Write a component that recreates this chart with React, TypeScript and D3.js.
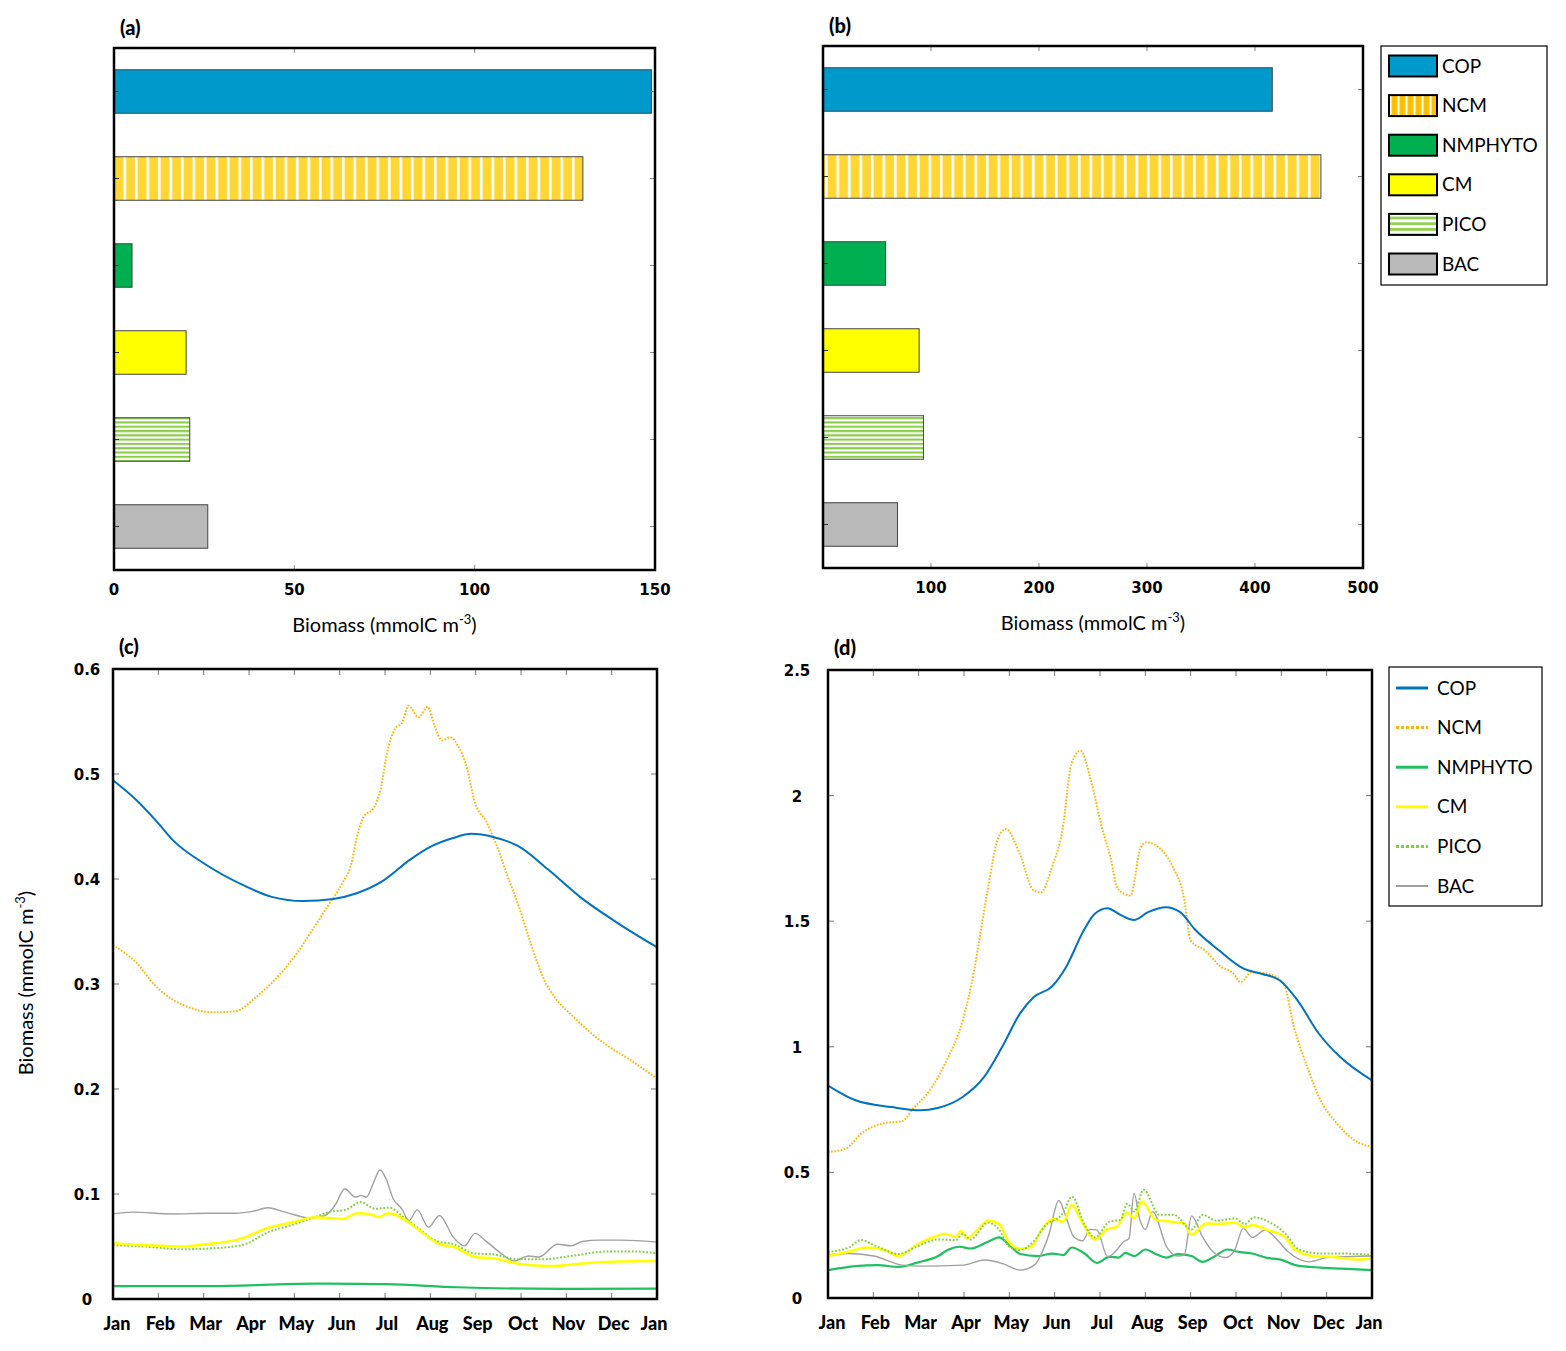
import React from "react";
import * as d3 from "d3";

// bar charts (a) and (b)
const groups = ["COP", "NCM", "NMPHYTO", "CM", "PICO", "BAC"];
const biomassA = [149, 130, 5, 20, 21, 26];
const biomassB = [416, 461, 58, 89, 93, 69];
const ticksA = [0, 50, 100, 150];
const ticksB = [100, 200, 300, 400, 500];

// time series (c) and (d): [month, biomass]
const monthLabels = ["Jan", "Feb", "Mar", "Apr", "May", "Jun", "Jul", "Aug", "Sep", "Oct", "Nov", "Dec", "Jan"];
const ticksC = [0, 0.1, 0.2, 0.3, 0.4, 0.5, 0.6];
const ticksD = [0, 0.5, 1, 1.5, 2, 2.5];

const copC = [[0, 0.494], [0.52, 0.475], [1.0, 0.453], [1.32, 0.437], [2.0, 0.415], [2.93, 0.393], [3.5, 0.383], [4.2, 0.379], [4.86, 0.381], [5.34, 0.386], [5.98, 0.399], [6.54, 0.418], [7.02, 0.431], [7.5, 0.439], [7.9, 0.443], [8.39, 0.44], [8.95, 0.431], [9.6, 0.409], [10.3, 0.383], [11.1, 0.359], [12, 0.335]];
const ncmC = [[0, 0.337], [0.52, 0.32], [0.92, 0.299], [1.32, 0.285], [1.73, 0.277], [2.2, 0.273], [2.69, 0.274], [3.17, 0.288], [3.57, 0.304], [4.05, 0.329], [4.45, 0.355], [4.78, 0.377], [5.06, 0.396], [5.26, 0.415], [5.38, 0.44], [5.54, 0.46], [5.74, 0.467], [5.9, 0.485], [6.06, 0.523], [6.22, 0.543], [6.38, 0.549], [6.52, 0.565], [6.74, 0.554], [6.94, 0.564], [7.1, 0.545], [7.26, 0.532], [7.44, 0.535], [7.62, 0.526], [7.78, 0.51], [7.99, 0.472], [8.23, 0.455], [8.47, 0.431], [8.71, 0.402], [8.95, 0.374], [9.19, 0.342], [9.51, 0.304], [9.75, 0.287], [10.15, 0.269], [10.55, 0.253], [10.95, 0.24], [11.36, 0.229], [12, 0.21]];
const nmphytoC = [[0, 0.0122], [2.1, 0.0122], [4.45, 0.0147], [6.02, 0.0141], [7.6, 0.0112], [9.95, 0.0096], [12, 0.0099]];
const cmC = [[0, 0.0532], [0.67, 0.0513], [1.46, 0.05], [2.08, 0.0522], [2.79, 0.057], [3.42, 0.0676], [3.97, 0.0731], [4.45, 0.0779], [5.07, 0.0763], [5.39, 0.0817], [5.7, 0.0804], [5.86, 0.0779], [6.06, 0.0817], [6.26, 0.0795], [6.57, 0.0715], [6.81, 0.0635], [7.2, 0.0522], [7.51, 0.0497], [7.99, 0.04], [8.38, 0.0388], [9.01, 0.033], [9.64, 0.0314], [10.35, 0.0337], [11.13, 0.0356], [12, 0.0362]];
const picoC = [[0, 0.0513], [0.67, 0.05], [1.53, 0.0474], [2.24, 0.0484], [2.87, 0.0516], [3.42, 0.0635], [3.97, 0.0708], [4.45, 0.0779], [4.76, 0.0827], [5.15, 0.0853], [5.47, 0.0923], [5.78, 0.0859], [6.1, 0.0869], [6.41, 0.0779], [6.73, 0.0676], [7.12, 0.0554], [7.51, 0.0522], [7.99, 0.0433], [8.38, 0.0426], [8.93, 0.0378], [9.48, 0.0378], [10.11, 0.041], [10.9, 0.0452], [11.53, 0.0452], [12, 0.0433]];
const bacC = [[0, 0.0811], [0.43, 0.0827], [1.3, 0.081], [2.08, 0.0817], [2.71, 0.0817], [3.1, 0.0837], [3.42, 0.0869], [3.8, 0.0827], [4.37, 0.077], [4.68, 0.0795], [4.92, 0.0907], [5.11, 0.105], [5.35, 0.097], [5.47, 0.0987], [5.59, 0.097], [5.74, 0.11], [5.89, 0.1228], [6.02, 0.1147], [6.18, 0.0955], [6.37, 0.0859], [6.53, 0.0747], [6.71, 0.0849], [6.96, 0.0683], [7.2, 0.0795], [7.51, 0.0587], [7.75, 0.0506], [7.99, 0.0625], [8.22, 0.0554], [8.54, 0.0442], [8.85, 0.0362], [9.17, 0.041], [9.4, 0.04], [9.8, 0.0522], [10.11, 0.0506], [10.35, 0.0548], [10.74, 0.0561], [11.21, 0.0561], [12, 0.0542]];

const copD = [[0, 0.846], [0.61, 0.787], [1.4, 0.76], [2.03, 0.747], [2.42, 0.756], [2.97, 0.8], [3.44, 0.879], [3.84, 0.999], [4.23, 1.131], [4.54, 1.198], [4.94, 1.24], [5.25, 1.317], [5.64, 1.463], [5.88, 1.529], [6.16, 1.552], [6.47, 1.523], [6.75, 1.505], [7.06, 1.536], [7.45, 1.556], [7.77, 1.536], [8.08, 1.47], [8.63, 1.383], [9.18, 1.31], [9.58, 1.29], [9.97, 1.264], [10.36, 1.184], [10.83, 1.052], [11.3, 0.959], [12, 0.866]];
const ncmD = [[0, 0.581], [0.38, 0.594], [0.77, 0.66], [1.24, 0.696], [1.64, 0.704], [1.87, 0.753], [2.19, 0.813], [2.58, 0.932], [2.97, 1.105], [3.21, 1.29], [3.36, 1.45], [3.52, 1.622], [3.76, 1.834], [3.92, 1.867], [4.23, 1.768], [4.54, 1.622], [4.7, 1.615], [4.94, 1.715], [5.17, 1.861], [5.37, 2.126], [5.57, 2.179], [5.8, 2.06], [6.04, 1.874], [6.23, 1.755], [6.39, 1.629], [6.67, 1.602], [6.9, 1.794], [7.02, 1.814], [7.37, 1.781], [7.61, 1.715], [7.85, 1.595], [8.0, 1.423], [8.32, 1.383], [8.63, 1.324], [8.95, 1.29], [9.1, 1.257], [9.34, 1.297], [9.73, 1.29], [10.05, 1.251], [10.28, 1.078], [10.6, 0.906], [10.83, 0.8], [11.23, 0.694], [11.62, 0.627], [12, 0.601]];
const nmphytoD = [[0, 0.111], [0.61, 0.127], [1.09, 0.131], [1.56, 0.124], [1.95, 0.14], [2.43, 0.167], [2.66, 0.193], [2.9, 0.204], [3.14, 0.197], [3.53, 0.224], [3.77, 0.241], [4.0, 0.211], [4.24, 0.175], [4.63, 0.167], [4.95, 0.177], [5.19, 0.171], [5.38, 0.201], [5.66, 0.177], [5.93, 0.14], [6.21, 0.164], [6.41, 0.161], [6.56, 0.18], [6.76, 0.167], [7.0, 0.193], [7.23, 0.175], [7.47, 0.161], [7.71, 0.175], [8.02, 0.167], [8.26, 0.144], [8.49, 0.161], [8.81, 0.193], [9.05, 0.184], [9.36, 0.177], [9.68, 0.16], [9.99, 0.153], [10.31, 0.131], [10.86, 0.121], [11.33, 0.117], [12, 0.111]];
const cmD = [[0, 0.167], [0.46, 0.184], [0.85, 0.201], [1.25, 0.191], [1.56, 0.167], [1.95, 0.211], [2.35, 0.244], [2.58, 0.255], [2.82, 0.244], [2.94, 0.268], [3.06, 0.237], [3.29, 0.271], [3.53, 0.308], [3.77, 0.295], [4.0, 0.22], [4.24, 0.196], [4.48, 0.204], [4.71, 0.271], [4.95, 0.313], [5.19, 0.304], [5.38, 0.371], [5.58, 0.311], [5.89, 0.233], [6.13, 0.271], [6.37, 0.284], [6.6, 0.34], [6.76, 0.317], [6.92, 0.384], [7.23, 0.311], [7.55, 0.304], [7.86, 0.295], [8.02, 0.251], [8.34, 0.297], [8.65, 0.295], [8.97, 0.3], [9.2, 0.281], [9.36, 0.291], [9.68, 0.271], [10.07, 0.244], [10.31, 0.191], [10.7, 0.167], [11.1, 0.164], [11.65, 0.153], [12, 0.157]];
const picoD = [[0, 0.184], [0.46, 0.201], [0.73, 0.231], [1.09, 0.204], [1.56, 0.175], [1.95, 0.204], [2.43, 0.233], [2.82, 0.231], [2.98, 0.255], [3.14, 0.233], [3.53, 0.3], [3.77, 0.273], [4.0, 0.204], [4.24, 0.191], [4.55, 0.228], [4.79, 0.287], [5.19, 0.34], [5.38, 0.404], [5.66, 0.291], [5.89, 0.241], [6.21, 0.304], [6.45, 0.311], [6.6, 0.375], [6.76, 0.344], [6.96, 0.431], [7.31, 0.331], [7.63, 0.331], [8.02, 0.273], [8.26, 0.331], [8.57, 0.308], [8.97, 0.317], [9.2, 0.295], [9.4, 0.321], [9.76, 0.3], [10.07, 0.26], [10.39, 0.193], [10.86, 0.177], [11.33, 0.177], [12, 0.171]];
const bacD = [[0, 0.171], [0.46, 0.177], [1.01, 0.167], [1.64, 0.131], [2.03, 0.127], [2.98, 0.131], [3.45, 0.151], [3.85, 0.137], [4.24, 0.111], [4.55, 0.131], [4.87, 0.251], [5.09, 0.388], [5.26, 0.317], [5.42, 0.244], [5.62, 0.228], [5.78, 0.273], [5.93, 0.271], [6.17, 0.164], [6.37, 0.191], [6.52, 0.224], [6.64, 0.237], [6.75, 0.417], [6.88, 0.311], [7.0, 0.273], [7.16, 0.344], [7.47, 0.204], [7.71, 0.167], [7.86, 0.171], [8.02, 0.327], [8.26, 0.244], [8.49, 0.184], [8.77, 0.161], [8.97, 0.191], [9.16, 0.277], [9.36, 0.241], [9.64, 0.271], [9.91, 0.231], [10.15, 0.184], [10.62, 0.144], [11.01, 0.161], [12, 0.167]];

const barFill: Record<string, string> = {
  COP: "#0099CC",
  NCM: "url(#ncmStripe)",
  NMPHYTO: "#00B050",
  CM: "#FFFF00",
  PICO: "url(#picoStripe)",
  BAC: "#B9B9B9",
};
const legendFill: Record<string, string> = { ...barFill, NCM: "url(#ncmStripeSmall)", PICO: "url(#picoStripeSmall)" };

const lineStyle: Record<string, { color: string; width: number; dash?: string }> = {
  COP: { color: "#0072C0", width: 2 },
  NCM: { color: "#FFB400", width: 2, dash: "1.6 1.6" },
  NMPHYTO: { color: "#1EC060", width: 2.2 },
  CM: { color: "#FFFF00", width: 2.5 },
  PICO: { color: "#7ED03C", width: 2, dash: "1.8 1.8" },
  BAC: { color: "#A0A0A0", width: 1.4 },
};

const numFont = "'DejaVu Sans', sans-serif";
const txtFont = "Lato, 'Open Sans', sans-serif";

const BiomassLabel = ({ x, y, rotate = false }: { x: number; y: number; rotate?: boolean }) => (
  <text x={rotate ? 0 : x} y={rotate ? 0 : y} transform={rotate ? `translate(${x},${y}) rotate(-90)` : undefined}
    textAnchor="middle" fontFamily={txtFont} fontSize={20} fill="#000">
    Biomass (mmolC m<tspan dy={-8} fontSize={13}>-3</tspan><tspan dy={8}>)</tspan>
  </text>
);

const BarPanel = ({ x0, x1, y0, y1, max, values, labels, innerTicks, letter }: any) => {
  const x = d3.scaleLinear().domain([0, max]).range([x0, x1]);
  const y = d3.scaleBand().domain(groups).range([y0, y1]).paddingInner(0.5).paddingOuter(0.25);
  return (
    <g>
      {groups.map((g, i) => (
        <rect key={g} x={x(0)} y={y(g)} width={x(values[i]) - x(0)} height={y.bandwidth()}
          fill={barFill[g]} stroke="#444" strokeWidth={1} />
      ))}
      {groups.map((g) => {
        const cy = (y(g) as number) + y.bandwidth() / 2;
        return (
          <g key={g}>
            <line x1={x0} x2={x0 + 5} y1={cy} y2={cy} stroke="#333" />
            <line x1={x1 - 5} x2={x1} y1={cy} y2={cy} stroke="#888" />
          </g>
        );
      })}
      {innerTicks.map((t: number) => (
        <g key={t}>
          <line x1={x(t)} x2={x(t)} y1={y1} y2={y1 - 5} stroke="#888" />
          <line x1={x(t)} x2={x(t)} y1={y0} y2={y0 + 5} stroke="#888" />
        </g>
      ))}
      <rect x={x0} y={y0} width={x1 - x0} height={y1 - y0} fill="none" stroke="#000" strokeWidth={2.5} />
      {labels.map((t: number) => (
        <text key={t} x={x(t)} y={y1 + 25} textAnchor="middle" fontFamily={numFont} fontWeight="bold" fontSize={15}>{t}</text>
      ))}
      <BiomassLabel x={(x0 + x1) / 2} y={y1 + 62} />
      <text x={x0 + 6} y={y0 - 13} fontFamily={txtFont} fontWeight="900" fontSize={20}>{letter}</text>
    </g>
  );
};

const LinePanel = ({ x0, x1, y0, y1, max, ticks, series, labelX, letter }: any) => {
  const x = d3.scaleLinear().domain([0, 12]).range([x0, x1]);
  const y = d3.scaleLinear().domain([0, max]).range([y1, y0]);
  const line = d3.line<number[]>().x((d) => x(d[0])).y((d) => y(d[1])).curve(d3.curveMonotoneX);
  const clipId = `clip-${letter.replace(/\W/g, "")}`;
  return (
    <g>
      <clipPath id={clipId}><rect x={x0} y={y0} width={x1 - x0} height={y1 - y0} /></clipPath>
      {d3.range(1, 12).map((m) => (
        <g key={m}>
          <line x1={x(m)} x2={x(m)} y1={y1} y2={y1 - 6} stroke="#777" />
          <line x1={x(m)} x2={x(m)} y1={y0} y2={y0 + 6} stroke="#777" />
        </g>
      ))}
      {ticks.slice(1, -1).map((t: number) => (
        <g key={t}>
          <line x1={x0} x2={x0 + 6} y1={y(t)} y2={y(t)} stroke="#777" />
          <line x1={x1 - 6} x2={x1} y1={y(t)} y2={y(t)} stroke="#777" />
        </g>
      ))}
      <g clipPath={`url(#${clipId})`}>
        {series.map(([name, data]: [string, number[][]]) => {
          const s = lineStyle[name];
          return (
            <path key={name} d={line(data) as string} fill="none" stroke={s.color} strokeWidth={s.width}
              strokeDasharray={s.dash} strokeLinejoin="round" />
          );
        })}
      </g>
      <rect x={x0} y={y0} width={x1 - x0} height={y1 - y0} fill="none" stroke="#000" strokeWidth={2.5} />
      {ticks.map((t: number) => (
        <text key={t} x={labelX} y={y(t) + 6} textAnchor="middle" fontFamily={numFont} fontWeight="bold" fontSize={15}>{t}</text>
      ))}
      {monthLabels.map((m, i) => (
        <text key={i} x={x(i) + (i === 0 ? 4 : i === 12 ? -3 : 2)} y={y1 + 31} textAnchor="middle" fontFamily={txtFont} fontWeight="900" fontSize={18}>{m}</text>
      ))}
      <text x={x0 + 6} y={y0 - 15} fontFamily={txtFont} fontWeight="900" fontSize={20}>{letter}</text>
    </g>
  );
};

const BarLegend = ({ x, y, w, h }: any) => {
  const rows = d3.scaleLinear().domain([0, 5]).range([y + 20, y + 218]);
  return (
    <g>
      <rect x={x} y={y} width={w} height={h} fill="#fff" stroke="#000" strokeWidth={1.2} />
      {groups.map((g, i) => (
        <g key={g}>
          <rect x={x + 8} y={rows(i) - 10.5} width={48} height={21} fill={legendFill[g]} stroke="#000" strokeWidth={2} />
          <text x={x + 61} y={rows(i) + 6.5} fontFamily={txtFont} fontSize={19}>{g}</text>
        </g>
      ))}
    </g>
  );
};

const LineLegend = ({ x, y, w, h }: any) => {
  const rows = d3.scaleLinear().domain([0, 5]).range([y + 21, y + 219]);
  return (
    <g>
      <rect x={x} y={y} width={w} height={h} fill="#fff" stroke="#000" strokeWidth={1.2} />
      {groups.map((g, i) => {
        const s = lineStyle[g];
        return (
          <g key={g}>
            <line x1={x + 7} x2={x + 39} y1={rows(i)} y2={rows(i)} stroke={s.color}
              strokeWidth={g === "BAC" ? 2 : 3} strokeDasharray={s.dash ? "3 2" : undefined} />
            <text x={x + 48} y={rows(i) + 6.5} fontFamily={txtFont} fontSize={19}>{g}</text>
          </g>
        );
      })}
    </g>
  );
};

export default function App() {
  return (
    <svg width={1566} height={1351} style={{ position: "absolute", left: 0, top: 0, background: "#fff" }}>
      <defs>
        <pattern id="ncmStripe" patternUnits="userSpaceOnUse" width={11.5} height={10}>
          <rect width={11.5} height={10} fill="#FFD633" />
          <rect x={8.5} width={2.6} height={10} fill="#fff" />
        </pattern>
        <pattern id="ncmStripeSmall" patternUnits="userSpaceOnUse" width={8} height={10}>
          <rect width={8} height={10} fill="#FFC000" />
          <rect x={5.5} width={2} height={10} fill="#fff" />
        </pattern>
        <pattern id="picoStripe" patternUnits="userSpaceOnUse" width={10} height={4.3}>
          <rect width={10} height={4.3} fill="#fff" />
          <rect y={0} width={10} height={2.1} fill="#8BCB4A" />
        </pattern>
        <pattern id="picoStripeSmall" patternUnits="userSpaceOnUse" width={10} height={5.7}>
          <rect width={10} height={5.7} fill="#fff" />
          <rect y={0} width={10} height={2.8} fill="#92D050" />
        </pattern>
      </defs>
      <rect width={1566} height={1351} fill="#fff" />

      <BarPanel x0={114} x1={655} y0={48} y1={570} max={150} values={biomassA} labels={ticksA} innerTicks={[50, 100]} letter="(a)" />
      <BarPanel x0={823} x1={1363} y0={46} y1={568} max={500} values={biomassB} labels={ticksB} innerTicks={[100, 200, 300, 400]} letter="(b)" />
      <BarLegend x={1381} y={46} w={166} h={239} />

      <LinePanel x0={113} x1={657} y0={669} y1={1299} max={0.6} ticks={ticksC} labelX={87} letter="(c)"
        series={[["NMPHYTO", nmphytoC], ["BAC", bacC], ["PICO", picoC], ["CM", cmC], ["NCM", ncmC], ["COP", copC]]} />
      <LinePanel x0={828} x1={1372} y0={670} y1={1298} max={2.5} ticks={ticksD} labelX={797} letter="(d)"
        series={[["NMPHYTO", nmphytoD], ["BAC", bacD], ["CM", cmD], ["PICO", picoD], ["NCM", ncmD], ["COP", copD]]} />
      <LineLegend x={1389} y={667} w={153} h={239} />

      <BiomassLabel x={33} y={983} rotate />
    </svg>
  );
}
